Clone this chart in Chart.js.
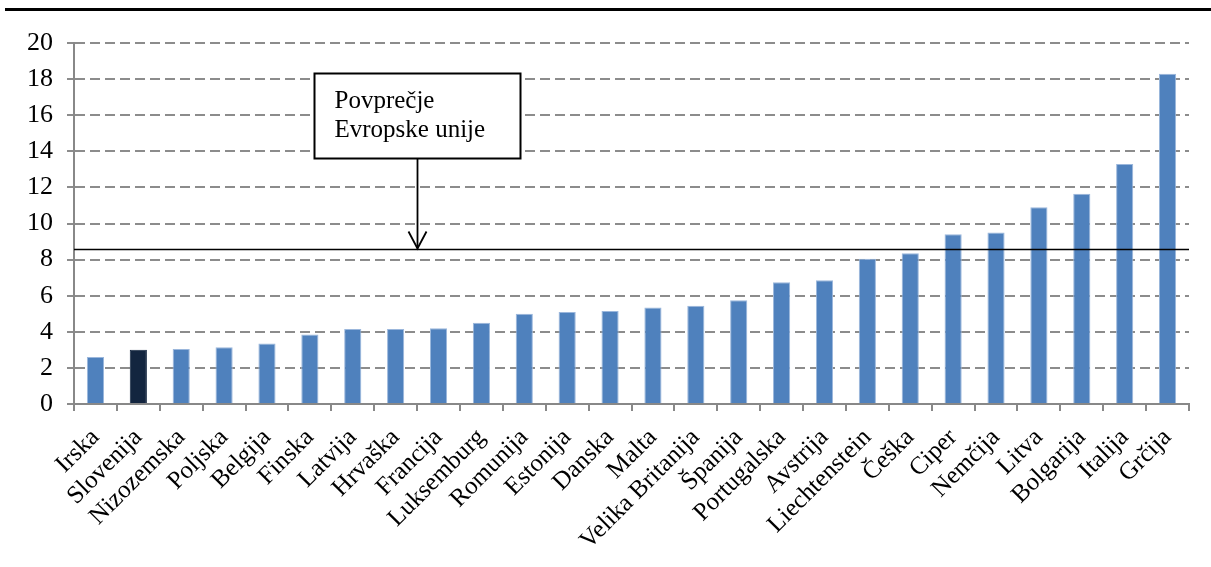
<!DOCTYPE html>
<html>
<head>
<meta charset="utf-8">
<script src="https://cdn.jsdelivr.net/npm/chart.js@4.4.1/dist/chart.umd.min.js"></script>
<style>
  html, body { margin: 0; padding: 0; background: #fff; }
  #wrap { width: 1211px; height: 567px; position: relative; }
</style>
</head>
<body>
<div id="wrap"><canvas id="myChart"></canvas></div>
<script>
let countries = ['Irska', 'Slovenija', 'Nizozemska', 'Poljska', 'Belgija', 'Finska', 'Latvija', 'Hrvaška',
  'Francija', 'Luksemburg', 'Romunija', 'Estonija', 'Danska', 'Malta', 'Velika Britanija', 'Španija',
  'Portugalska', 'Avstrija', 'Liechtenstein', 'Češka', 'Ciper', 'Nemčija', 'Litva', 'Bolgarija', 'Italija', 'Grčija'];
let values = [2.6, 3.0, 3.05, 3.15, 3.35, 3.85, 4.15, 4.15, 4.2, 4.5, 5.0, 5.1, 5.15, 5.35, 5.45, 5.75,
  6.75, 6.85, 8.05, 8.35, 9.4, 9.5, 10.9, 11.65, 13.3, 18.3];
let highlight = 'Slovenija';
let euAverage = 8.6;
let euLabel = ['Povprečje', 'Evropske unije'];
let yTicks = [0, 2, 4, 6, 8, 10, 12, 14, 16, 18, 20];

let font = "'Liberation Serif', 'Times New Roman', serif";

let barColors = countries.map(c => c === highlight ? '#13253f' : '#4f81bd');

// top rule, EU average line and the callout box
let extras = {
  id: 'extras',
  beforeDraw(chart) {
    let ctx = chart.ctx;
    ctx.save();
    ctx.strokeStyle = '#000';
    ctx.lineWidth = 3;
    ctx.beginPath();
    ctx.moveTo(5, 9.5);
    ctx.lineTo(1211, 9.5);
    ctx.stroke();
    ctx.restore();
  },
  afterDatasetsDraw(chart) {
    let ctx = chart.ctx;
    let x = chart.scales.x, y = chart.scales.y;
    let area = chart.chartArea;
    let ly = Math.round(y.getPixelForValue(euAverage)) + 0.5;

    ctx.save();
    ctx.strokeStyle = '#000';
    ctx.lineWidth = 1.5;
    ctx.beginPath();
    ctx.moveTo(area.left, ly);
    ctx.lineTo(area.right, ly);
    ctx.stroke();

    // callout box
    let ax = x.getPixelForValue(7.5);
    let bw = 206, bh = 85;
    let bx = Math.round(ax - bw / 2) + 0.5;
    let by = Math.round(y.getPixelForValue(18.35)) + 0.5;
    ctx.fillStyle = '#fff';
    ctx.fillRect(bx, by, bw, bh);
    ctx.lineWidth = 2;
    ctx.strokeRect(bx, by, bw, bh);

    ctx.fillStyle = '#000';
    ctx.font = '25px ' + font;
    ctx.textBaseline = 'alphabetic';
    ctx.textAlign = 'left';
    euLabel.forEach((t, i) => ctx.fillText(t, bx + 20, by + 34 + i * 29));

    // arrow
    ctx.lineWidth = 1.8;
    let axp = Math.round(ax) + 0.5;
    ctx.beginPath();
    ctx.moveTo(axp, by + bh);
    ctx.lineTo(axp, ly - 1);
    ctx.stroke();
    ctx.beginPath();
    ctx.moveTo(axp - 9, ly - 18);
    ctx.lineTo(axp, ly - 1);
    ctx.lineTo(axp + 9, ly - 18);
    ctx.stroke();
    ctx.restore();
  }
};

let settings = {
  type: 'bar',
  data: {
    labels: countries,
    datasets: [{
      data: values,
      backgroundColor: barColors,
      borderColor: countries.map(c => c === highlight ? '#13253f' : '#9bb7dc'),
      borderWidth: 1,
      barPercentage: 0.8,
      categoryPercentage: 0.5
    }]
  },
  options: {
    responsive: true,
    maintainAspectRatio: false,
    devicePixelRatio: 1,
    animation: false,
    layout: {
      padding: { top: 43, right: 22, left: 0, bottom: 0 }
    },
    plugins: {
      legend: { display: false },
      tooltip: { enabled: false }
    },
    scales: {
      x: {
        afterFit(scale) { scale.height = 163; },
        border: { color: '#888', width: 2 },
        grid: {
          display: true,
          drawOnChartArea: false,
          drawTicks: true,
          tickLength: 7,
          color: '#888',
          lineWidth: 2,
          offset: true
        },
        ticks: {
          color: '#000',
          font: { family: font, size: 25 },
          minRotation: 45,
          maxRotation: 45,
          autoSkip: false,
          padding: 12
        }
      },
      y: {
        min: 0,
        max: 20,
        afterFit(scale) { scale.width = 74; },
        afterBuildTicks(scale) { scale.ticks = yTicks.map(v => ({ value: v })); },
        border: { color: '#888', width: 2, dash: [10, 5] },
        grid: {
          color: '#8c8c8c',
          lineWidth: 2,
          tickBorderDash: [],
          tickLength: 7
        },
        ticks: {
          color: '#000',
          font: { family: font, size: 26 },
          padding: 14
        }
      }
    }
  },
  plugins: [extras]
};

window.onload = function () {
  window.chart = new Chart('myChart', settings);
};
</script>
</body>
</html>
